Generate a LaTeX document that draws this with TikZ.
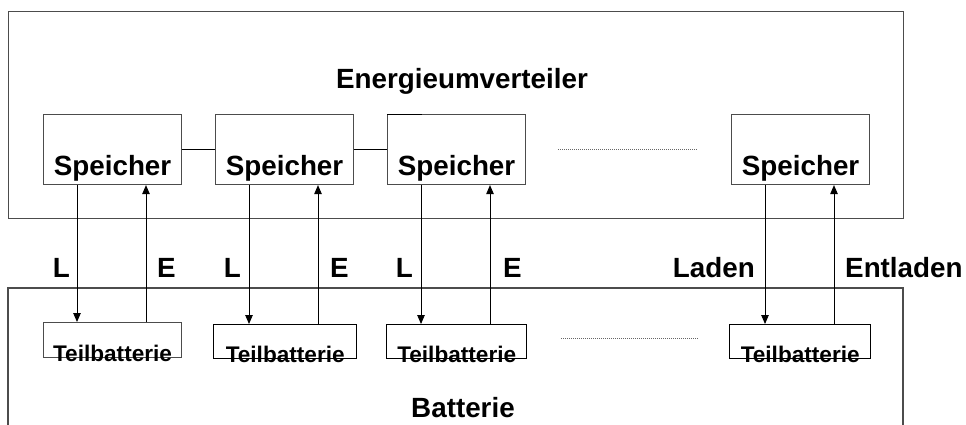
\documentclass[tikz,border=0pt]{standalone}
\usepackage{fontspec}
\setmainfont{Liberation Sans}
\usetikzlibrary{arrows.meta,calc}
\begin{document}
\begin{tikzpicture}[x=1pt,y=-1pt,
  frame/.style={draw=black!70, line width=1.2pt},
  sbox/.style={draw=black!70, line width=1.1pt, minimum width=138pt, minimum height=70pt, anchor=north west, inner sep=0pt},
  tbox/.style={draw=black, line width=1.4pt, minimum height=34pt, anchor=north west, inner sep=0pt},
  big/.style={font=\fontsize{27.8}{30}\selectfont\bfseries, inner sep=0pt},
  small/.style={font=\fontsize{22.6}{24}\selectfont\bfseries, inner sep=0pt},
  conn/.style={draw=black, line width=1.2pt},
  arr/.style={draw=black, line width=0.9pt, -{Triangle[length=9pt,width=7.5pt]}},
  dots/.style={draw=black!60, line width=0.8pt, dash pattern=on 1pt off 1pt}
]
\useasboundingbox (0,0) rectangle (966,424);
% outer frames
\node[frame, minimum width=895pt, minimum height=207pt, anchor=north west, inner sep=0pt] (ev) at (8,11) {};
\node[big, anchor=base] (evt) at (462,88) {Energieumverteiler};
\draw[frame] (8,440) -- (8,288) -- (903,288) -- (903,440);
\coordinate (bat) at (8,288);
\node[big, anchor=base] (batt) at (463,417) {Batterie};
% Speicher boxes
\node[sbox] (s1) at (43,114) {};
\node[sbox] (s2) at (215,114) {};
\node[sbox] (s3) at (387,114) {};
\node[sbox] (s4) at (731,114) {};
\foreach \n in {1,2,3,4}{
  \node[big, anchor=base] (st\n) at ($(s\n.south)+(0,-10)$) {Speicher};
}
\draw[line width=1.6pt] ([yshift=-0.3pt]s3.north west) -- ++(35,0);
% Teilbatterie boxes
\node[tbox, draw=black!70, line width=1.1pt, minimum width=138pt, minimum height=35pt] (t1) at (43,322) {};
\node[tbox, minimum width=143pt] (t2) at (213,324) {};
\node[tbox, minimum width=140pt] (t3) at (386,324) {};
\node[tbox, minimum width=141pt] (t4) at (729,324) {};
\foreach \n in {1,2,3,4}{
  \node[small, anchor=base] (tt\n) at ($(t\n.south)+(0,3)$) {Teilbatterie};
}
% connectors
\draw[conn] ($(t1.east)+(0,-1)$) -- ($(t1.east)+(0,-1)$ -| t2.west);
\draw[conn] (s1.east) -- (s2.west);
\draw[conn] (s2.east) -- (s3.west);
\draw[conn] ($(t2.east)+(0,-2)$) -- ($(t2.east)+(0,-2)$ -| t3.west);
\coordinate (d1) at (558,149);
\coordinate (d2) at (697,149);
\draw[dots] (d1) -- (d2);
\coordinate (d3) at (561,338);
\coordinate (d4) at (699,338);
\draw[dots] (d3) -- (d4);
% arrows L (down) and E (up)
\foreach \n in {1,2,3,4}{
  \draw[arr] ([xshift=34pt]s\n.south west) -- ([xshift=34pt]s\n.south west |- t\n.north);
  \draw[arr] ([xshift=103pt]s\n.south west |- t\n.north) -- ([xshift=103pt]s\n.south west);
}
% labels
\node[big, anchor=base east] (l1) at (70,277) {L};
\node[big, anchor=base west] (e1) at (157,277) {E};
\node[big, anchor=base east] (l2) at (241,277) {L};
\node[big, anchor=base west] (e2) at (330,277) {E};
\node[big, anchor=base east] (l3) at (413,277) {L};
\node[big, anchor=base west] (e3) at (503,277) {E};
\node[big, anchor=base east] (l4) at (755,277) {Laden};
\node[big, anchor=base west] (e4) at (845,277) {Entladen};
\end{tikzpicture}
\end{document}
